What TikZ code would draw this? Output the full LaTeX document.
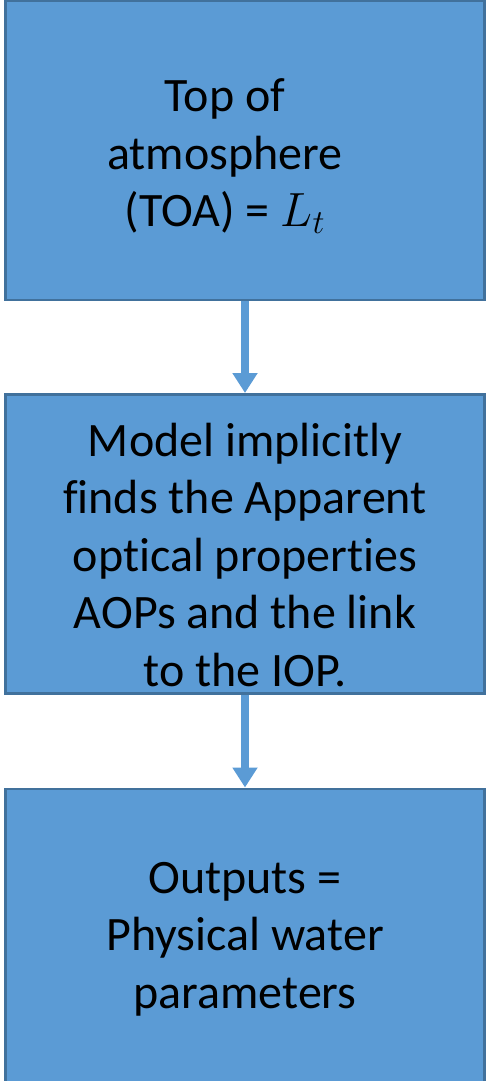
\documentclass[tikz,border=0pt]{standalone}
\usepackage{fix-cm}
\usepackage{fontspec}
\setmainfont{Carlito}[Ligatures=NoCommon]
\usepackage{xcolor}
\usetikzlibrary{arrows.meta,positioning}
\definecolor{boxblue}{RGB}{91,155,213}
\definecolor{edgeblue}{RGB}{65,113,156}

\begin{document}
\begin{tikzpicture}[
    x=1pt, y=1pt,
    node distance=92pt,
    stage/.style={draw=edgeblue, line width=2.5pt, fill=boxblue, minimum width=479pt, minimum height=299pt, inner sep=0pt},
    txt/.style={align=center, font=\fontsize{48}{57.5}\selectfont, inner sep=0pt},
    flow/.style={-{Triangle[width=24pt,length=20pt]}, line width=8pt, boxblue}
]
\useasboundingbox (0,0) rectangle (487,-1081);
\node[stage] (toa) at (245,-150.25) {};
\node[stage, below=of toa] (model) {};
\node[stage, below=93pt of model] (outputs) {};

\node[txt] (toatext) at ([shift={(-20,-6)}]toa.center) {Top of\\atmosphere\\(TOA) = $L_t$};
\node[txt] (modeltext) at ([shift={(0,-11)}]model.center) {Model implicitly\\finds the Apparent\\optical properties\\AOPs and the link\\to the IOP.};
\node[txt] (outputstext) at ([shift={(0,-1)}]outputs.center) {Outputs =\\Physical water\\parameters};

\draw[flow] (toa) -- (model);
\draw[flow] (model) -- (outputs);
\end{tikzpicture}
\end{document}
